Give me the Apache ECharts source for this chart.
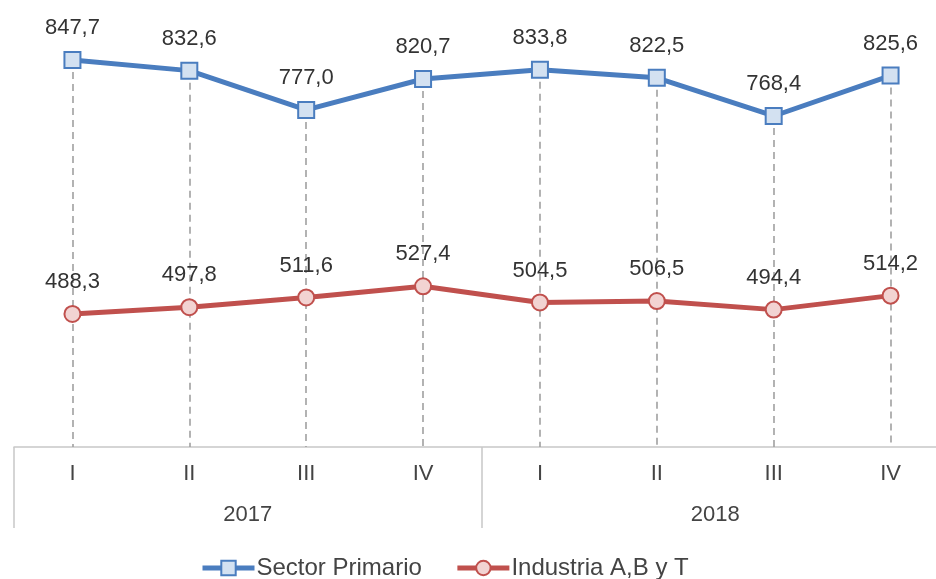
<!DOCTYPE html>
<html>
<head>
<meta charset="utf-8">
<script src="https://cdn.jsdelivr.net/npm/echarts@6/dist/echarts.min.js"></script>
<style>
  html, body { margin: 0; padding: 0; background: #fff; }
  #chart { width: 936px; height: 579px; }
</style>
</head>
<body>
<div id="chart"></div>
<script>
// Quarterly series, 2017–2018
const quarters = ['I', 'II', 'III', 'IV', 'I', 'II', 'III', 'IV'];
const years = ['2017', '2018'];
const sectorPrimario = [847.7, 832.6, 777.0, 820.7, 833.8, 822.5, 768.4, 825.6];
const industriaABT = [488.3, 497.8, 511.6, 527.4, 504.5, 506.5, 494.4, 514.2];
const Y_MIN = 300;
const Y_MAX = 900;

const FONT = '"Liberation Sans", Arial, sans-serif';
const BLUE = '#4a7dbf';
const RED = '#c0504d';

const fmt = (p) => p.value.toFixed(1).replace('.', ',');

// Dashed drop lines from each upper point down to the axis
const dropLines = sectorPrimario.map((v, i) => [
  { coord: [i, v] },
  { coord: [i, Y_MIN] }
]);

const chart = echarts.init(document.getElementById('chart'), null, { renderer: 'canvas' });
chart.setOption({
  animation: false,
  backgroundColor: '#ffffff',
  textStyle: { fontFamily: FONT },
  // plot area runs a little past the right edge of the canvas
  grid: {
    left: 14, width: 935, top: 23, height: 424,
    containLabel: false, outerBoundsMode: 'none'
  },
  xAxis: [
    {
      type: 'category',
      data: quarters,
      position: 'bottom',
      offset: 0,
      boundaryGap: true,
      axisLine: { show: true, lineStyle: { color: '#c8c8c8', width: 1.5 } },
      axisTick: { show: false },
      axisLabel: { color: '#444444', fontSize: 22, margin: 16, fontFamily: FONT },
      splitLine: { show: false }
    },
    {
      type: 'category',
      data: years,
      position: 'bottom',
      offset: 0,
      boundaryGap: true,
      axisLine: { show: false },
      axisTick: { show: true, length: 81, inside: false, lineStyle: { color: '#c8c8c8', width: 1.5 } },
      axisLabel: { color: '#444444', fontSize: 22, margin: 57, fontFamily: FONT },
      splitLine: { show: false }
    }
  ],
  yAxis: {
    type: 'value',
    min: Y_MIN,
    max: Y_MAX,
    show: false,
    splitLine: { show: false }
  },
  legend: {
    top: 551,
    left: 195,
    itemWidth: 52,
    itemHeight: 18,
    itemGap: 33,
    lineStyle: { width: 5 },
    textStyle: { fontSize: 24, color: '#444444', fontFamily: FONT, padding: [0, 0, 0, -3] },
    data: ['Sector Primario', 'Industria A,B y T']
  },
  series: [
    {
      name: 'Sector Primario',
      type: 'line',
      xAxisIndex: 0,
      data: sectorPrimario,
      symbol: 'rect',
      symbolSize: 16,
      z: 3,
      lineStyle: { color: BLUE, width: 5 },
      itemStyle: { color: '#d3e1f1', borderColor: BLUE, borderWidth: 2 },
      label: {
        show: true, position: 'top', distance: 12,
        fontSize: 22, color: '#333333', fontFamily: FONT, formatter: fmt
      },
      markLine: {
        silent: true,
        symbol: ['none', 'none'],
        label: { show: false },
        z: 1,
        lineStyle: { color: '#a0a0a0', type: [7, 5], width: 1.6 },
        emphasis: { disabled: true },
        data: dropLines
      }
    },
    {
      name: 'Industria A,B y T',
      type: 'line',
      xAxisIndex: 0,
      data: industriaABT,
      symbol: 'circle',
      symbolSize: 16,
      z: 3,
      lineStyle: { color: RED, width: 5 },
      itemStyle: { color: '#f2d3d2', borderColor: RED, borderWidth: 2 },
      label: {
        show: true, position: 'top', distance: 12,
        fontSize: 22, color: '#333333', fontFamily: FONT, formatter: fmt
      }
    }
  ]
});
</script>
</body>
</html>
